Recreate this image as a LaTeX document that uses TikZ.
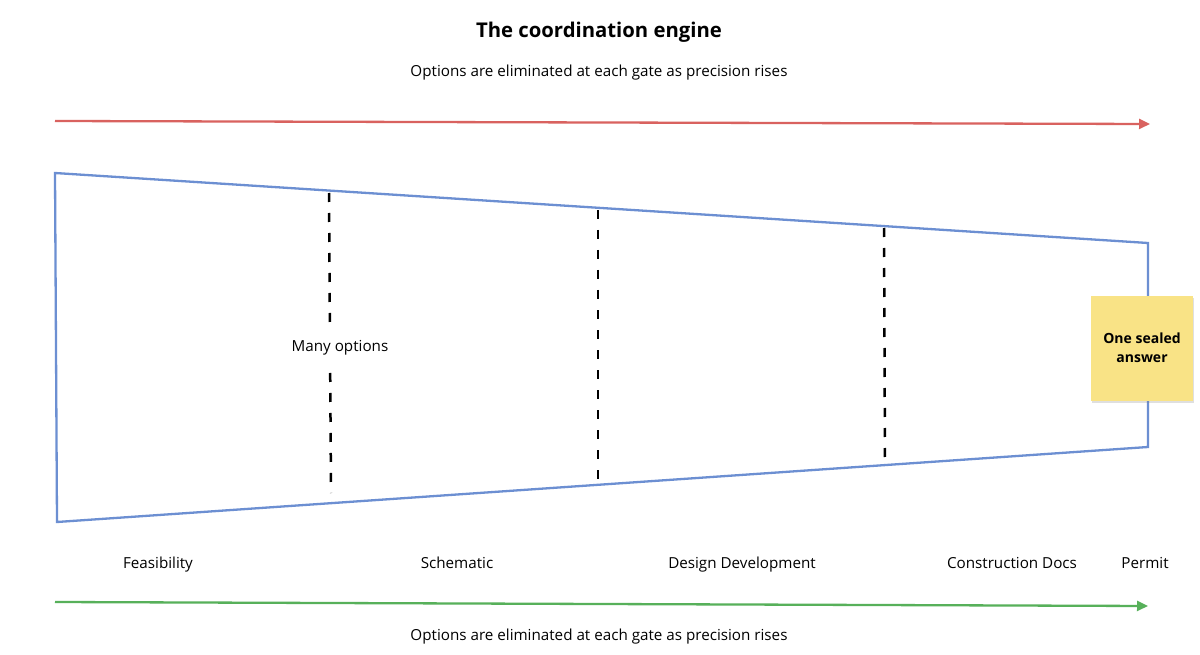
\documentclass[tikz,border=0pt]{standalone}
\usepackage{fontspec}
\setmainfont{Open Sans}
\usetikzlibrary{arrows.meta,shadows}
\definecolor{funnelblue}{HTML}{6C8FD2}
\definecolor{arrowred}{HTML}{D9625F}
\definecolor{arrowgreen}{HTML}{57B05A}
\definecolor{sticky}{HTML}{F9E386}
\tikzset{
  lbl/.style={font=\fontsize{15.2}{18}\selectfont, text=black, inner sep=1pt, text height=11pt, text depth=4pt},
  gate/.style={line width=2.5pt, dash pattern=on 9pt off 11pt, black},
  flow/.style={line width=2.3pt, -{Triangle[length=11pt,width=10pt]}},
}
\begin{document}
\begin{tikzpicture}[x=1pt,y=-1pt]
\useasboundingbox (0,0) rectangle (1200,655);
\fill[white] (0,0) rectangle (1200,655);
% title
\node[font=\fontsize{20.3}{24}\selectfont\bfseries] (title) at (599,32) {The coordination engine};
\node[lbl] (sub) at (599,73) {Options are eliminated at each gate as precision rises};
% red arrow
\coordinate (r1) at (55,121);
\coordinate (r2) at (1150,124);
\draw[flow, arrowred] (r1) -- (r2);
% funnel
\coordinate (tl) at (55,173);
\coordinate (tr) at (1148,243);
\coordinate (br) at (1148,447);
\coordinate (bl) at (57,522);
\draw[funnelblue, line width=2.3pt, line join=miter] (tl) -- (tr) -- (br) -- (bl) -- cycle;
% gates
\coordinate (g1t) at (329,193);
\coordinate (g1b) at (331,493);
\coordinate (g2t) at (598,210);
\coordinate (g2b) at (598,483);
\coordinate (g3t) at (884,228);
\coordinate (g3b) at (885,463);
\draw[gate] (g1t) -- (g1b);
\draw[gate] (g2t) -- (g2b);
\draw[gate] (g3t) -- (g3b);
\node[lbl, fill=white, inner xsep=3pt, inner ysep=9pt] (many) at (340,348) {Many options};
% sticky note
\node[fill=sticky, minimum width=102pt, minimum height=105pt, inner sep=0pt,
      drop shadow={shadow xshift=1pt, shadow yshift=-2pt, opacity=0.25, fill=gray},
      align=center, font=\fontsize{14}{19}\selectfont\bfseries] (note) at (1142,348) {One sealed\\answer};
% phase labels
\node[lbl] (feas) at (158,565) {Feasibility};
\node[lbl] (sch) at (457,565) {Schematic};
\node[lbl] (dd) at (742,565) {Design Development};
\node[lbl] (cd) at (1012,565) {Construction Docs};
\node[lbl] (perm) at (1145,565) {Permit};
% green arrow
\coordinate (g1) at (55,602);
\coordinate (g2) at (1148,606);
\draw[flow, arrowgreen] (g1) -- (g2);
\node[lbl] (bot) at (599,637) {Options are eliminated at each gate as precision rises};
\end{tikzpicture}
\end{document}
